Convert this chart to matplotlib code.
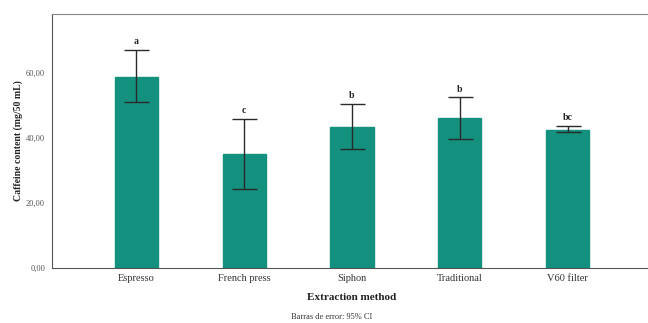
import matplotlib
matplotlib.use("Agg")
import matplotlib.pyplot as plt
from matplotlib.ticker import FuncFormatter

categories = ["Espresso", "French press", "Siphon", "Traditional", "V60 filter"]
means = [58.9, 35.0, 43.4, 46.1, 42.6]
ci_upper = [67.0, 45.9, 50.6, 52.5, 43.7]
ci_lower = [51.0, 24.2, 36.5, 39.6, 41.8]
letters = ["a", "c", "b", "b", "bc"]
yticks = [0, 20, 40, 60]

plt.rcParams['font.family'] = ['Liberation Serif', 'DejaVu Serif']

fig = plt.figure(figsize=(6.48, 3.23), dpi=100)
ax = fig.add_axes([52/648, 1 - 268/323, 600/648, (268-14)/323])

x = list(range(len(categories)))
yerr = [[m - lo for m, lo in zip(means, ci_lower)], [hi - m for m, hi in zip(means, ci_upper)]]
ax.bar(x, means, width=0.4, color="#13917e", edgecolor="#13917e", zorder=2)
ax.errorbar(x, means, yerr=yerr, fmt="none", ecolor="#2a2a2a", elinewidth=1.0, capsize=9, capthick=1.0, zorder=3)
for xi, hi, lab in zip(x, ci_upper, letters):
    ax.text(xi, hi + 1.2, lab, ha="center", va="bottom", fontsize=7, fontweight="bold", color="#222222")

ax.set_xlim(-0.78, 4.78)
ax.set_ylim(0, 78.2)
ax.set_yticks(yticks)
ax.yaxis.set_major_formatter(FuncFormatter(lambda v, p: f"{v:.2f}".replace(".", ",")))
ax.set_xticks(x)
ax.set_xticklabels(categories)
ax.tick_params(axis="x", length=0, labelsize=7.5, colors="#333333", pad=4)
ax.tick_params(axis="y", length=0, labelsize=6, colors="#555555", pad=5)
for s in ["left", "bottom"]:
    ax.spines[s].set_color("#555555")
ax.spines["top"].set_color("#888888")
ax.spines["right"].set_visible(False)

fig.text(18/648, 1 - 141/323, "Caffeine content (mg/50 mL)", rotation=90, ha="center", va="center",
         fontsize=7, fontweight="bold", color="#222222")
fig.text(352/648, 1 - 298/323, "Extraction method", ha="center", va="center",
         fontsize=8, fontweight="bold", color="#222222")
fig.text(332/648, 1 - 317/323, "Barras de error: 95% CI", ha="center", va="center",
         fontsize=6, color="#333333")

fig.savefig("out.png", dpi=100)
